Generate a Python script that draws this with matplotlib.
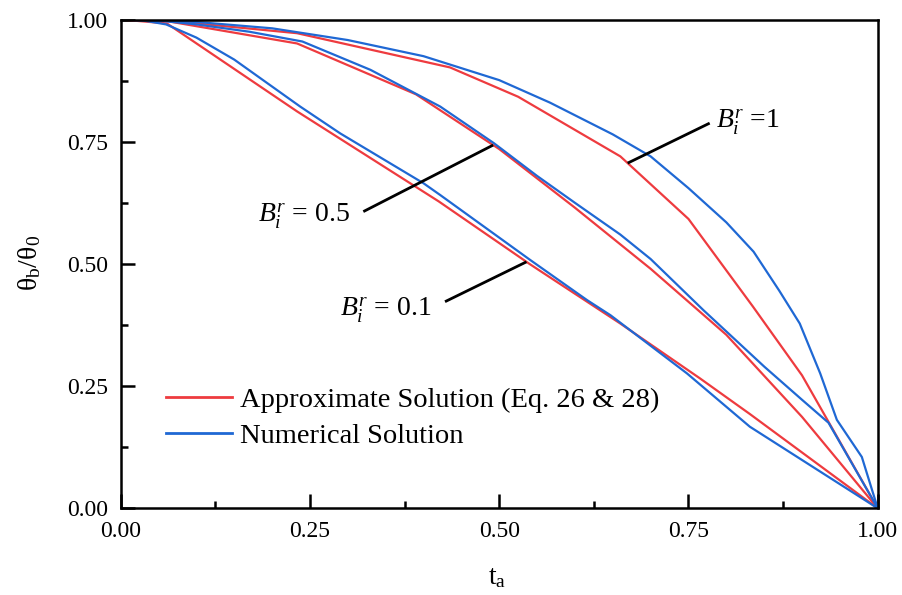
import numpy as np
import matplotlib
matplotlib.use("Agg")
import matplotlib.pyplot as plt
from matplotlib.ticker import MultipleLocator, FormatStrFormatter

plt.rcParams['font.family'] = ['Liberation Serif', 'DejaVu Serif']
plt.rcParams['mathtext.fontset'] = 'custom'
plt.rcParams['mathtext.rm'] = 'Liberation Serif'
plt.rcParams['mathtext.it'] = 'Liberation Serif:italic'
plt.rcParams['mathtext.bf'] = 'Liberation Serif:bold'

# Approximate solution (Eq. 26 & 28)
approx_x_01 = [0.0, 0.061, 0.233, 0.42, 0.54, 0.66, 0.765, 0.831, 1.0]
approx_y_01 = [1.0, 0.992, 0.812, 0.628, 0.500, 0.378, 0.266, 0.193, 0.0]

approx_x_05 = [0.0, 0.06, 0.233, 0.39, 0.5, 0.6, 0.7, 0.8, 0.9, 1.0]
approx_y_05 = [1.0, 0.997, 0.951, 0.847, 0.735, 0.615, 0.49, 0.355, 0.187, 0.0]

approx_x_1 = [0.0, 0.06, 0.233, 0.435, 0.525, 0.66, 0.75, 0.835, 0.9, 1.0]
approx_y_1 = [1.0, 0.998, 0.972, 0.902, 0.842, 0.72, 0.592, 0.413, 0.272, 0.0]

# Numerical solution
num_x_01 = [0.0, 0.03, 0.06, 0.1, 0.15, 0.237, 0.29, 0.40, 0.422, 0.541, 0.616, 0.647, 0.748, 0.831, 1.0]
num_y_01 = [1.0, 0.998, 0.99, 0.963, 0.918, 0.822, 0.767, 0.665, 0.641, 0.508, 0.426, 0.395, 0.276, 0.167, 0.0]

num_x_05 = [0.0, 0.05, 0.1, 0.17, 0.24, 0.33, 0.422, 0.493, 0.55, 0.6, 0.66, 0.7, 0.77, 0.85, 0.9, 0.935, 1.0]
num_y_05 = [1.0, 0.998, 0.99, 0.975, 0.955, 0.897, 0.822, 0.747, 0.68, 0.625, 0.56, 0.51, 0.405, 0.29, 0.222, 0.175, 0.0]

num_x_1 = [0.0, 0.1, 0.2, 0.3, 0.4, 0.5, 0.567, 0.65, 0.7, 0.75, 0.8, 0.836, 0.87, 0.897, 0.924, 0.946, 0.979, 1.0]
num_y_1 = [1.0, 0.995, 0.982, 0.958, 0.925, 0.876, 0.830, 0.765, 0.720, 0.655, 0.585, 0.525, 0.445, 0.378, 0.276, 0.181, 0.105, 0.0]

xticks = [0.0, 0.25, 0.5, 0.75, 1.0]
yticks = [0.0, 0.25, 0.5, 0.75, 1.0]

RED = '#EE3B3F'
BLUE = '#1F68D4'

fig = plt.figure(figsize=(9.02, 5.95), dpi=100)
ax = fig.add_axes([0.1338, 0.1457, 0.8393, 0.8215])

lw = 1.6
ax.plot(approx_x_1, approx_y_1, color=RED, lw=lw, label='Approximate Solution (Eq. 26 & 28)')
ax.plot(approx_x_05, approx_y_05, color=RED, lw=lw)
ax.plot(approx_x_01, approx_y_01, color=RED, lw=lw)
ax.plot(num_x_1, num_y_1, color=BLUE, lw=lw, label='Numerical Solution')
ax.plot(num_x_05, num_y_05, color=BLUE, lw=lw)
ax.plot(num_x_01, num_y_01, color=BLUE, lw=lw)

ax.set_xlim(0, 1)
ax.set_ylim(0, 1)
ax.set_xticks(xticks)
ax.set_yticks(yticks)
ax.xaxis.set_major_formatter(FormatStrFormatter('%.2f'))
ax.yaxis.set_major_formatter(FormatStrFormatter('%.2f'))
ax.xaxis.set_minor_locator(MultipleLocator(0.125))
ax.yaxis.set_minor_locator(MultipleLocator(0.125))
ax.tick_params(which='both', direction='in', top=False, right=False, width=1.8)
ax.tick_params(which='major', length=10, labelsize=17)
ax.tick_params(axis='x', which='major', pad=9)
ax.tick_params(axis='y', which='major', pad=9)
ax.tick_params(which='minor', length=5)
for s in ax.spines.values():
    s.set_linewidth(1.8)

# axis titles
fig.text(30 / 902, 1 - 263 / 595, 'θ$_\\mathregular{b}$/θ$_\\mathregular{0}$', rotation=90,
         ha='center', va='center', fontsize=20)
fig.text(497 / 902, 1 - 578 / 595, 't$_\\mathregular{a}$', ha='center', va='center', fontsize=20)

# leader lines from labels to the approximate-solution curves
def leader(x_pt, xs, ys, x_from, y_from, label, tx, ty):
    y_pt = float(np.interp(x_pt, xs, ys))
    ax.plot([x_from, x_pt], [y_from, y_pt], color='black', lw=2, solid_capstyle='butt')
    ax.text(tx, ty, label, fontsize=20, ha='left', va='baseline')

leader(0.6697, approx_x_1, approx_y_1, 0.778, 0.788, '$B_i^r$ =1', 0.7864, 0.7774)
leader(0.492, approx_x_05, approx_y_05, 0.3205, 0.607, '$B_i^r$ = 0.5', 0.1814, 0.5843)
leader(0.536, approx_x_01, approx_y_01, 0.4284, 0.4227, '$B_i^r$ = 0.1', 0.2897, 0.392)

leg = ax.legend(loc='upper left', bbox_to_anchor=(0.0598, 0.249), frameon=False,
                fontsize=20.5, handlelength=2.32, handletextpad=0.28, labelspacing=0.36,
                borderpad=0, borderaxespad=0)
for h in leg.get_lines():
    h.set_linewidth(2)

fig.savefig('out.png', dpi=100)
